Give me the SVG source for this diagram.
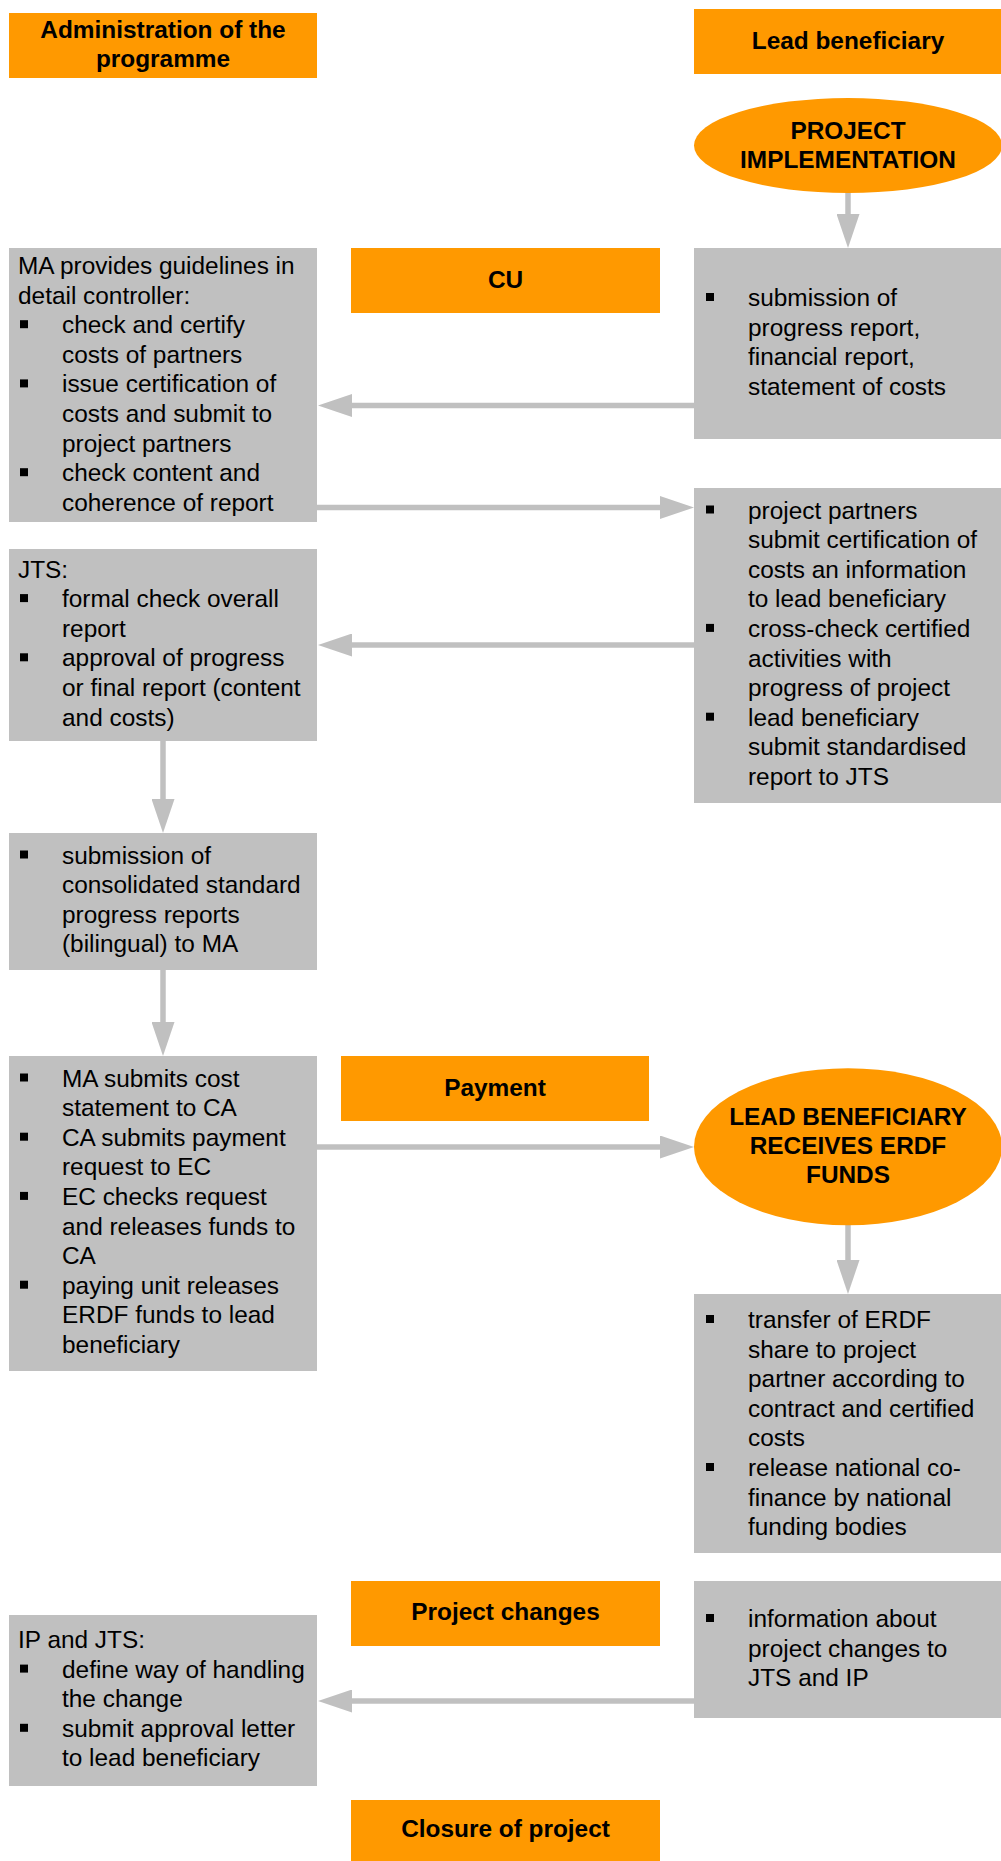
<svg xmlns="http://www.w3.org/2000/svg" width="1001" height="1861" viewBox="0 0 1001 1861">
<style>
.hdr{fill:#FF9900}
.box{fill:#C0C0C0}
.b{font-family:"Liberation Sans",Arial,sans-serif;font-weight:bold;font-size:24.4px;fill:#000;text-anchor:middle}
.t{font-family:"Liberation Sans",Arial,sans-serif;font-size:24.4px;fill:#000}
.bul{fill:#000}
.conn{stroke:#C0C0C0;stroke-width:5.5;fill:none;marker-end:url(#ah)}
</style>
<defs>
<marker id="ah" markerUnits="userSpaceOnUse" markerWidth="34" markerHeight="23" refX="0" refY="11.5" orient="auto">
<path d="M0,0 L34,11.5 L0,23 z" fill="#C0C0C0"/>
</marker>
</defs>
<rect width="1001" height="1861" fill="#FFFFFF"/>

<g id="connectors">
<path class="conn" d="M848,192 V214"/>
<path class="conn" d="M694,405.5 H352"/>
<path class="conn" d="M317,507.5 H660"/>
<path class="conn" d="M694,645 H352"/>
<path class="conn" d="M163,741 V799"/>
<path class="conn" d="M163,970 V1022"/>
<path class="conn" d="M317,1147 H660"/>
<path class="conn" d="M848,1225 V1260"/>
<path class="conn" d="M694,1701 H352"/>
</g>

<g id="admin-header">
<rect class="hdr" x="9" y="13" width="308" height="65"/>
<text class="b" x="163" y="38">Administration of the</text>
<text class="b" x="163" y="66.5">programme</text>
</g>

<g id="lead-header">
<rect class="hdr" x="694" y="9" width="310" height="65"/>
<text class="b" x="848" y="48.5">Lead beneficiary</text>
</g>

<g id="project-implementation">
<ellipse class="hdr" cx="848" cy="145.5" rx="154" ry="47.5"/>
<text class="b" x="848" y="139">PROJECT</text>
<text class="b" x="848" y="167.5">IMPLEMENTATION</text>
</g>

<g id="cu">
<rect class="hdr" x="351" y="248" width="309" height="65"/>
<text class="b" x="505.5" y="288">CU</text>
</g>

<g id="ma-guidelines">
<rect class="box" x="9" y="248" width="308" height="274"/>
<text class="t" x="18" y="274">MA provides guidelines in</text>
<text class="t" x="18" y="303.6">detail controller:</text>
<rect class="bul" x="20" y="320.2" width="8" height="8"/>
<text class="t" x="62" y="333.2">check and certify</text>
<text class="t" x="62" y="362.8">costs of partners</text>
<rect class="bul" x="20" y="379.4" width="8" height="8"/>
<text class="t" x="62" y="392.4">issue certification of</text>
<text class="t" x="62" y="422">costs and submit to</text>
<text class="t" x="62" y="451.6">project partners</text>
<rect class="bul" x="20" y="468.2" width="8" height="8"/>
<text class="t" x="62" y="481.2">check content and</text>
<text class="t" x="62" y="510.8">coherence of report</text>
</g>

<g id="submission-progress">
<rect class="box" x="694" y="248" width="310" height="191"/>
<rect class="bul" x="706" y="293" width="8" height="8"/>
<text class="t" x="748" y="306">submission of</text>
<text class="t" x="748" y="335.6">progress report,</text>
<text class="t" x="748" y="365.2">financial report,</text>
<text class="t" x="748" y="394.8">statement of costs</text>
</g>

<g id="partners-certification">
<rect class="box" x="694" y="488" width="310" height="315"/>
<rect class="bul" x="706" y="505.5" width="8" height="8"/>
<text class="t" x="748" y="518.5">project partners</text>
<text class="t" x="748" y="548.1">submit certification of</text>
<text class="t" x="748" y="577.7">costs an information</text>
<text class="t" x="748" y="607.3">to lead beneficiary</text>
<rect class="bul" x="706" y="623.9" width="8" height="8"/>
<text class="t" x="748" y="636.9">cross-check certified</text>
<text class="t" x="748" y="666.5">activities with</text>
<text class="t" x="748" y="696.1">progress of project</text>
<rect class="bul" x="706" y="712.7" width="8" height="8"/>
<text class="t" x="748" y="725.7">lead beneficiary</text>
<text class="t" x="748" y="755.3">submit standardised</text>
<text class="t" x="748" y="784.9">report to JTS</text>
</g>

<g id="jts-check">
<rect class="box" x="9" y="549" width="308" height="192"/>
<text class="t" x="18" y="577.5">JTS:</text>
<rect class="bul" x="20" y="594.1" width="8" height="8"/>
<text class="t" x="62" y="607.1">formal check overall</text>
<text class="t" x="62" y="636.7">report</text>
<rect class="bul" x="20" y="653.3" width="8" height="8"/>
<text class="t" x="62" y="666.3">approval of progress</text>
<text class="t" x="62" y="695.9">or final report (content</text>
<text class="t" x="62" y="725.5">and costs)</text>
</g>

<g id="consolidated-reports">
<rect class="box" x="9" y="833" width="308" height="137"/>
<rect class="bul" x="20" y="850.5" width="8" height="8"/>
<text class="t" x="62" y="863.5">submission of</text>
<text class="t" x="62" y="893.1">consolidated standard</text>
<text class="t" x="62" y="922.7">progress reports</text>
<text class="t" x="62" y="952.3">(bilingual) to MA</text>
</g>

<g id="payment">
<rect class="hdr" x="341" y="1056" width="308" height="65"/>
<text class="b" x="495" y="1096">Payment</text>
</g>

<g id="ma-cost-statement">
<rect class="box" x="9" y="1056" width="308" height="315"/>
<rect class="bul" x="20" y="1073.5" width="8" height="8"/>
<text class="t" x="62" y="1086.5">MA submits cost</text>
<text class="t" x="62" y="1116.1">statement to CA</text>
<rect class="bul" x="20" y="1132.7" width="8" height="8"/>
<text class="t" x="62" y="1145.7">CA submits payment</text>
<text class="t" x="62" y="1175.3">request to EC</text>
<rect class="bul" x="20" y="1191.9" width="8" height="8"/>
<text class="t" x="62" y="1204.9">EC checks request</text>
<text class="t" x="62" y="1234.5">and releases funds to</text>
<text class="t" x="62" y="1264.1">CA</text>
<rect class="bul" x="20" y="1280.7" width="8" height="8"/>
<text class="t" x="62" y="1293.7">paying unit releases</text>
<text class="t" x="62" y="1323.3">ERDF funds to lead</text>
<text class="t" x="62" y="1352.9">beneficiary</text>
</g>

<g id="lead-receives-erdf">
<ellipse class="hdr" cx="848" cy="1146.7" rx="154" ry="78.5"/>
<text class="b" x="848" y="1125">LEAD BENEFICIARY</text>
<text class="b" x="848" y="1154">RECEIVES ERDF</text>
<text class="b" x="848" y="1183">FUNDS</text>
</g>

<g id="transfer-erdf">
<rect class="box" x="694" y="1294" width="310" height="259"/>
<rect class="bul" x="706" y="1315" width="8" height="8"/>
<text class="t" x="748" y="1328">transfer of ERDF</text>
<text class="t" x="748" y="1357.6">share to project</text>
<text class="t" x="748" y="1387.2">partner according to</text>
<text class="t" x="748" y="1416.8">contract and certified</text>
<text class="t" x="748" y="1446.4">costs</text>
<rect class="bul" x="706" y="1463" width="8" height="8"/>
<text class="t" x="748" y="1476">release national co-</text>
<text class="t" x="748" y="1505.6">finance by national</text>
<text class="t" x="748" y="1535.2">funding bodies</text>
</g>

<g id="project-changes">
<rect class="hdr" x="351" y="1581" width="309" height="65"/>
<text class="b" x="505.5" y="1620">Project changes</text>
</g>

<g id="change-information">
<rect class="box" x="694" y="1581" width="310" height="137"/>
<rect class="bul" x="706" y="1614" width="8" height="8"/>
<text class="t" x="748" y="1627">information about</text>
<text class="t" x="748" y="1656.6">project changes to</text>
<text class="t" x="748" y="1686.2">JTS and IP</text>
</g>

<g id="ip-jts">
<rect class="box" x="9" y="1615" width="308" height="171"/>
<text class="t" x="18" y="1648">IP and JTS:</text>
<rect class="bul" x="20" y="1664.6" width="8" height="8"/>
<text class="t" x="62" y="1677.6">define way of handling</text>
<text class="t" x="62" y="1707.2">the change</text>
<rect class="bul" x="20" y="1723.8" width="8" height="8"/>
<text class="t" x="62" y="1736.8">submit approval letter</text>
<text class="t" x="62" y="1766.4">to lead beneficiary</text>
</g>

<g id="closure">
<rect class="hdr" x="351" y="1800" width="309" height="65"/>
<text class="b" x="505.5" y="1837">Closure of project</text>
</g>
</svg>
